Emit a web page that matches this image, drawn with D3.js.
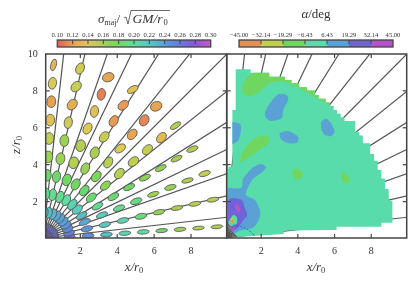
<!DOCTYPE html>
<html>
<head>
<meta charset="utf-8">
<script src="https://cdn.jsdelivr.net/npm/d3@7"></script>
<style>
	html, body { margin: 0; padding: 0; background: #fff; }
	svg { display: block; filter: blur(.35px); }
	text { font-family: "Liberation Serif", serif; fill: #333; }
</style>
</head>
<body>
<svg id="chart" width="416" height="284"></svg>
<script>
// rays of the binning grid, degrees from the x axis
var rayAngles = [6.43, 12.86, 19.29, 25.71, 32.14, 38.57, 45, 51.43, 57.86, 64.29, 70.71, 77.14, 83.57];
var xTicks = [2, 4, 6, 8];
var zTicks = [2, 4, 6, 8, 10];

// left panel: one row per sector, one column per ring
var sectorAngles = [4, 13, 22, 31, 40.5, 49.5, 59, 68, 77.7, 86.5];
var ringRadii = [9.45, 8.45, 7.45, 6.45, 5.45, 4.45, 3.45, 2.45, 1.45];
var ringMajor = [.32, .32, .32, .32, .32, .32, .32, .32, .3];
var sigmaTable = [
	[.155, .155, .165, .18, .2, .21, .225, .25, .265],
	[.155, .155, .158, .168, .19, .21, .22, .245, .258],
	[.148, .158, .165, .165, .19, .195, .215, .235, .252],
	[.158, .16, .168, .17, .182, .185, .195, .225, .245],
	[.158, .133, .148, .15, .155, .17, .185, .215, .24],
	[.122, .112, .122, .14, .155, .175, .185, .21, .24],
	[.135, .118, .118, .148, .16, .165, .18, .2, .235],
	[.122, .11, .135, .14, .155, .155, .18, .195, .23],
	[.145, .148, .127, .145, .165, .165, .185, .195, .225],
	[.13, .14, .12, .135, .15, .165, .185, .195, .222]
];
var minorTable = [
	[.1, .1, .11, .11, .12, .12, .13, .15, .16],
	[.12, .12, .12, .13, .15, .14, .14, .15, .17],
	[.14, .12, .14, .13, .16, .15, .14, .15, .18],
	[.14, .13, .14, .14, .15, .17, .16, .16, .18],
	[.14, .22, .22, .22, .22, .19, .19, .2, .19],
	[.25, .24, .22, .2, .22, .22, .21, .2, .19],
	[.17, .22, .22, .22, .24, .22, .22, .21, .19],
	[.24, .22, .22, .22, .26, .26, .24, .21, .19],
	[.22, .24, .24, .22, .24, .24, .22, .21, .19],
	[.15, .22, .24, .24, .26, .26, .24, .22, .19]
];
var tiltTable = [
	[5, 5, 5, 5, 4, 4, 4, 4, 4],
	[10, 10, 10, 12, 12, 12, 12, 13, 13],
	[17, 15, 15, 18, 20, 20, 22, 22, 22],
	[22, 25, 25, 25, 25, 30, 30, 31, 31],
	[32, 50, 45, 40, 50, 40, 40, 40, 40],
	[25, 60, 50, 35, 60, 50, 50, 50, 50],
	[30, 40, 60, 50, 70, 65, 60, 60, 59],
	[20, 80, 80, 60, 75, 75, 70, 68, 68],
	[65, 45, 50, 80, 85, 80, 80, 78, 78],
	[75, 80, 85, 85, 85, 85, 85, 86, 86]
];
// purple rings round the origin, same value along each ring
var innerRadii = [.65, .4, .2];
var innerMajor = [.22, .15, .09];
var innerMinor = [.15, .11, .08];
var innerSigma = [.265, .27, .27];
// centres sit a little under their ring in the picture
var ringDrop = .05;

// colour bars
var sigmaTicks = [.10, .12, .14, .16, .18, .20, .22, .24, .26, .28, .30];
var sigmaColors = ["#df5f5c", "#e8a052", "#dccb50", "#a8d050", "#70d860", "#60dca0", "#58c8c0", "#58a0d8", "#6878d8", "#8858d8", "#c858c8"];
var alphaTicks = [-45, -32.14, -19.29, -6.43, 6.43, 19.29, 32.14, 45];
var alphaColors = ["#e09155", "#c0cf50", "#6fd75f", "#58dcac", "#5aa2d6", "#7063d8", "#b255c8"];

// right panel, alpha map: [x, z] outlines
var mapOutline = [[.64,9.14],[1.455,9.14],[1.455,8.96],[2.47,8.96],[2.47,8.74],[3.32,8.74],[3.32,8.56],[3.68,8.56],[3.68,8.38],[4.1,8.38],[4.1,8.17],[4.53,8.17],[4.53,7.99],[4.95,7.99],[4.95,7.75],[5.16,7.75],[5.16,7.55],[5.54,7.55],[5.54,7.34],[5.76,7.34],[5.76,7.15],[5.98,7.15],[5.98,6.94],[6.16,6.94],[6.16,6.74],[6.36,6.74],[6.36,6.54],[6.57,6.54],[6.57,6.34],[7.15,6.34],[7.15,5.76],[7.37,5.76],[7.37,5.55],[7.57,5.55],[7.57,5.13],[7.97,5.13],[7.97,4.55],[8.18,4.55],[8.18,4.19],[8.38,4.19],[8.38,3.68],[8.58,3.68],[8.58,3.23],[8.78,3.23],[8.78,2.65],[8.98,2.65],[8.98,2.02],[9.18,2.02],[9.18,.83],[8.58,.83],[8.58,.61],[6.14,.61],[6.14,.43],[3.26,.4],[3.26,.22],[.75,.06],[.45,.35],[.3,.7],[.19,.9],[.19,3.32],[.24,3.86],[.46,3.86],[.46,6.94],[.64,6.94]];
var greenTop = [[1,8.11],[1.15,8.56],[1.69,8.99],[2.5,9],[3.41,8.84],[4.13,8.48],[5.04,8.03],[5.95,7.12],[5.22,7.48],[4.58,7.84],[3.86,8.24],[3.23,8.47],[2.5,8.38],[1.96,7.93],[1.42,7.7],[1.09,7.8]];
var greenMid = [[.88,4.14],[.97,4.6],[1.33,5.1],[1.7,5.4],[2.1,5.55],[2.45,5.45],[2.41,5.13],[1.96,4.77],[1.42,4.41],[1.06,4.19]];
var greenDotA = [[3.72,3.59],[3.92,3.77],[4.22,3.63],[4.31,3.41],[4.13,3.18],[3.86,3.23]];
var greenDotB = [[6.39,3.41],[6.52,3.58],[6.75,3.36],[6.85,3.14],[6.7,2.96],[6.48,3.05]];
var blueA = [[2.23,6.76],[2.5,7.3],[2.96,7.79],[3.41,7.75],[3.5,7.48],[3.23,6.94],[3.14,6.49],[2.59,6.34],[2.32,6.49]];
var blueB = [[5.31,6.31],[5.58,6.45],[5.85,6.22],[6.03,5.76],[5.85,5.53],[5.49,5.58],[5.31,5.94]];
var blueC = [[3.05,5.67],[3.5,5.8],[4.04,5.5],[3.99,5.17],[3.59,5.13],[3.14,5.31]];
var blueEdge = [[.3,6.22],[.88,6.18],[.91,5.67],[.79,5.31],[.7,5.22],[.3,5.09]];
var blueBig = [[.1,2.51],[.6,2.69],[.97,2.74],[1.02,3.14],[1.15,3.36],[1.51,3.77],[1.96,4.01],[2.29,3.86],[2.05,3.54],[1.6,3.23],[1.33,2.78],[1.2,2.33],[1.69,2.06],[1.96,1.52],[1.93,1.06],[1.6,.57],[.88,.4],[.33,.05],[.1,.1]];
var indigoBig = [[.24,1.97],[.51,2.15],[.97,2.06],[1.15,1.61],[1.27,1.24],[1.06,.97],[.79,.58],[.51,.43],[.24,.52]];
var magentaA = [[.6,1.78],[.79,1.78],[.91,1.52],[.79,1.37],[.6,1.61]];
var magentaB = [[.42,.52],[.6,.58],[.51,.29],[.37,.34]];
var coreTeal = [[.3,.97],[.51,1.24],[.7,1.12],[.7,.79],[.42,.65],[.24,.79]];
var coreGreen = [[.33,.97],[.48,1.15],[.6,.97],[.55,.79],[.37,.75]];
var coreYellow = [[.39,1.01],[.48,1.1],[.55,.92],[.46,.79]];
var coreOrange = [[.42,.97],[.48,1.03],[.51,.87],[.44,.82]];
var dashedArc = [[.51,.7],[.88,.65],[1.24,.52],[1.51,.29],[1.69,.11]];

var svg = d3.select('#chart');
var axisColor = "#444";

var z = d3.scaleLinear().domain([0, 9.97]).range([238, 54]);
var xLeft = d3.scaleLinear().domain([.15, 9.96]).range([45.7, 226.7]);
var xRight = d3.scaleLinear().domain([.15, 9.96]).range([226.7, 406.7]);
var unit = xLeft(1) - xLeft(0);

var sigmaScale = d3.scaleLinear().domain(sigmaTicks).range(sigmaColors);
var alphaScale = d3.scaleThreshold().domain(alphaTicks.slice(1, -1)).range(alphaColors);

function rad(d) { return d * Math.PI / 180; }

function clipBox(id, x) {
	svg.append('clipPath').attr('id', id).append('rect')
		.attr('x', x.range()[0]).attr('y', z.range()[1])
		.attr('width', x.range()[1] - x.range()[0])
		.attr('height', z.range()[0] - z.range()[1]);
}
clipBox('clipLeft', xLeft);
clipBox('clipRight', xRight);

function drawRays(g, x) {
	g.selectAll('line.ray').data(rayAngles).enter().append('line')
		.attr('class', 'ray')
		.attr('x1', x(0)).attr('y1', z(0))
		.attr('x2', function (d) { return x(16 * Math.cos(rad(d))); })
		.attr('y2', function (d) { return z(16 * Math.sin(rad(d))); })
		.attr('stroke', '#555').attr('stroke-width', 1.2);
}

function styleTicks(g) {
	g.select('.domain').remove();
	g.selectAll('line').attr('stroke', axisColor).attr('stroke-width', 1.2);
	g.selectAll('text').style('font-size', '10px').style('font-family', '"Liberation Serif", serif');
}

function drawFrame(x, withLabels) {
	var h = z.range()[0], top = z.range()[1];
	var bottom = d3.axisBottom(x).tickValues(xTicks).tickSize(-4).tickPadding(9).tickFormat(d3.format('d'));
	var upper = d3.axisTop(x).tickValues(xTicks).tickSize(-4).tickFormat('');
	var left = d3.axisLeft(z).tickValues(zTicks.slice(0, -1)).tickSize(-4).tickFormat('');
	var right = d3.axisRight(z).tickValues(zTicks.slice(0, -1)).tickSize(-4).tickFormat('');
	[
		svg.append('g').attr('transform', 'translate(0,' + h + ')').call(bottom),
		svg.append('g').attr('transform', 'translate(0,' + top + ')').call(upper),
		svg.append('g').attr('transform', 'translate(' + x.range()[0] + ',0)').call(left),
		svg.append('g').attr('transform', 'translate(' + x.range()[1] + ',0)').call(right)
	].forEach(styleTicks);
	if (withLabels) {
		var labels = d3.axisLeft(z).tickValues(zTicks).tickSize(0).tickPadding(8).tickFormat(d3.format('d'));
		styleTicks(svg.append('g').attr('transform', 'translate(' + x.range()[0] + ',0)').call(labels));
	}
	svg.append('rect')
		.attr('x', x.range()[0]).attr('y', top)
		.attr('width', x.range()[1] - x.range()[0]).attr('height', h - top)
		.attr('fill', 'none').attr('stroke', axisColor).attr('stroke-width', 1.5);
}

// left panel
var leftG = svg.append('g').attr('clip-path', 'url(#clipLeft)');
drawRays(leftG, xLeft);

var cells = [];
sectorAngles.forEach(function (a, s) {
	ringRadii.forEach(function (r, i) {
		cells.push({ a: a, r: r, major: ringMajor[i], minor: minorTable[s][i], tilt: tiltTable[s][i], sigma: sigmaTable[s][i] });
	});
	innerRadii.forEach(function (r, i) {
		cells.push({ a: a, r: r, major: innerMajor[i], minor: innerMinor[i], tilt: a, sigma: innerSigma[i] });
	});
});

leftG.selectAll('ellipse').data(cells).enter().append('ellipse')
	.attr('transform', function (d) {
		return 'translate(' + xLeft(d.r * Math.cos(rad(d.a))) + ',' + z(d.r * Math.sin(rad(d.a)) - ringDrop) + ') rotate(' + (-d.tilt) + ')';
	})
	.attr('rx', function (d) { return d.major * unit; })
	.attr('ry', function (d) { return d.minor * unit; })
	.attr('fill', function (d) { return sigmaScale(d.sigma); })
	.attr('stroke', '#555').attr('stroke-width', .8);

drawFrame(xLeft, true);

// right panel
var rightG = svg.append('g').attr('clip-path', 'url(#clipRight)');
drawRays(rightG, xRight);

var stepLine = d3.line().x(function (d) { return xRight(d[0]); }).y(function (d) { return z(d[1]); });
var blobLine = d3.line().x(function (d) { return xRight(d[0]); }).y(function (d) { return z(d[1]); })
	.curve(d3.curveCardinalClosed.tension(.2));

svg.append('clipPath').attr('id', 'clipMap').append('path').attr('d', stepLine(mapOutline) + 'Z');
rightG.append('path').attr('d', stepLine(mapOutline) + 'Z').attr('fill', alphaScale(0));

var blobs = [
	{ alpha: -10, pts: greenTop }, { alpha: -10, pts: greenMid }, { alpha: -10, pts: greenDotA }, { alpha: -10, pts: greenDotB },
	{ alpha: 10, pts: blueA }, { alpha: 10, pts: blueB }, { alpha: 10, pts: blueC }, { alpha: 10, pts: blueEdge }, { alpha: 10, pts: blueBig },
	{ alpha: 25, pts: indigoBig }, { alpha: 40, pts: magentaA }, { alpha: 40, pts: magentaB },
	{ alpha: 0, pts: coreTeal }, { alpha: -10, pts: coreGreen }, { alpha: -25, pts: coreYellow }, { alpha: -40, pts: coreOrange }
];
rightG.append('g').attr('clip-path', 'url(#clipMap)')
	.selectAll('path').data(blobs).enter().append('path')
	.attr('d', function (d) { return blobLine(d.pts); })
	.attr('fill', function (d) { return alphaScale(d.alpha); });

rightG.append('path')
	.attr('d', d3.line().x(function (d) { return xRight(d[0]); }).y(function (d) { return z(d[1]); }).curve(d3.curveBasis)(dashedArc))
	.attr('fill', 'none').attr('stroke', '#3a62c8').attr('stroke-width', 1).attr('stroke-dasharray', '2,1.5');

drawFrame(xRight, false);

// colour bars
var sigmaBar = d3.scaleLinear().domain([.1, .3]).range([57.3, 210.7]);
var alphaBar = d3.scalePoint().domain(alphaTicks).range([239, 393]);
var defs = svg.append('defs');
var grad = defs.append('linearGradient').attr('id', 'sigmaGrad');
grad.selectAll('stop').data(sigmaTicks).enter().append('stop')
	.attr('offset', function (d) { return (d - .1) / .2; })
	.attr('stop-color', function (d) { return sigmaScale(d); });

svg.append('rect').attr('x', 57.3).attr('y', 40).attr('width', sigmaBar(.3) - 57.3).attr('height', 7)
	.attr('fill', 'url(#sigmaGrad)').attr('stroke', axisColor).attr('stroke-width', 1.3);
svg.selectAll('line.st').data(sigmaTicks.slice(1, -1)).enter().append('line').attr('class', 'st')
	.attr('x1', sigmaBar).attr('x2', sigmaBar).attr('y1', 40).attr('y2', 44)
	.attr('stroke', axisColor).attr('stroke-width', 1);
svg.selectAll('text.st').data(sigmaTicks).enter().append('text').attr('class', 'st')
	.attr('x', sigmaBar).attr('y', 37).attr('text-anchor', 'middle').attr('font-size', 6.6)
	.text(d3.format('.2f'));

svg.selectAll('rect.at').data(alphaColors).enter().append('rect').attr('class', 'at')
	.attr('x', function (d, i) { return alphaBar(alphaTicks[i]); })
	.attr('y', 40).attr('height', 7)
	.attr('width', function (d, i) { return alphaBar(alphaTicks[i + 1]) - alphaBar(alphaTicks[i]); })
	.attr('fill', function (d) { return d; });
svg.append('rect').attr('x', 239).attr('y', 40).attr('width', 154).attr('height', 7)
	.attr('fill', 'none').attr('stroke', axisColor).attr('stroke-width', 1.3);
svg.selectAll('line.at').data(alphaTicks.slice(1, -1)).enter().append('line').attr('class', 'at')
	.attr('x1', alphaBar).attr('x2', alphaBar).attr('y1', 40).attr('y2', 44)
	.attr('stroke', axisColor).attr('stroke-width', 1);
svg.selectAll('text.at').data(alphaTicks).enter().append('text').attr('class', 'at')
	.attr('x', alphaBar).attr('y', 37).attr('text-anchor', 'middle').attr('font-size', 6.6)
	.text(function (d) { return d3.format('.2f')(d); });

// titles and axis names
var t1 = svg.append('text').attr('x', 98).attr('y', 23).attr('font-size', 13);
t1.append('tspan').attr('font-style', 'italic').text('σ');
t1.append('tspan').attr('font-size', 8).attr('dy', 2).text('maj');
t1.append('tspan').attr('dy', -2).text('/');
// radical sign with its bar
svg.append('path').attr('d', 'M124,18L126,17L128,24L131,10.5H170')
	.attr('stroke', '#444').attr('stroke-width', .8).attr('fill', 'none');
svg.append('text').attr('x', 132.5).attr('y', 23).attr('font-size', 13.5).attr('font-style', 'italic').text('GM/r');
svg.append('text').attr('x', 163.5).attr('y', 25).attr('font-size', 8.5).text('0');

var t2 = svg.append('text').attr('x', 316).attr('y', 18).attr('text-anchor', 'middle').attr('font-size', 13);
t2.append('tspan').attr('font-style', 'italic').text('α');
t2.append('tspan').text('/deg');

function axisName(x, y, letter, rotate) {
	var t = svg.append('text').attr('text-anchor', 'middle').attr('font-size', 13)
		.attr('transform', 'translate(' + x + ',' + y + ')' + (rotate ? ' rotate(-90)' : ''));
	t.append('tspan').attr('font-style', 'italic').text(letter + '/r');
	t.append('tspan').attr('font-size', 8.5).attr('dy', 2).text('0');
}
axisName(134, 271, 'x', false);
axisName(316, 271, 'x', false);
axisName(20, 145, 'z', true);
</script>
</body>
</html>
